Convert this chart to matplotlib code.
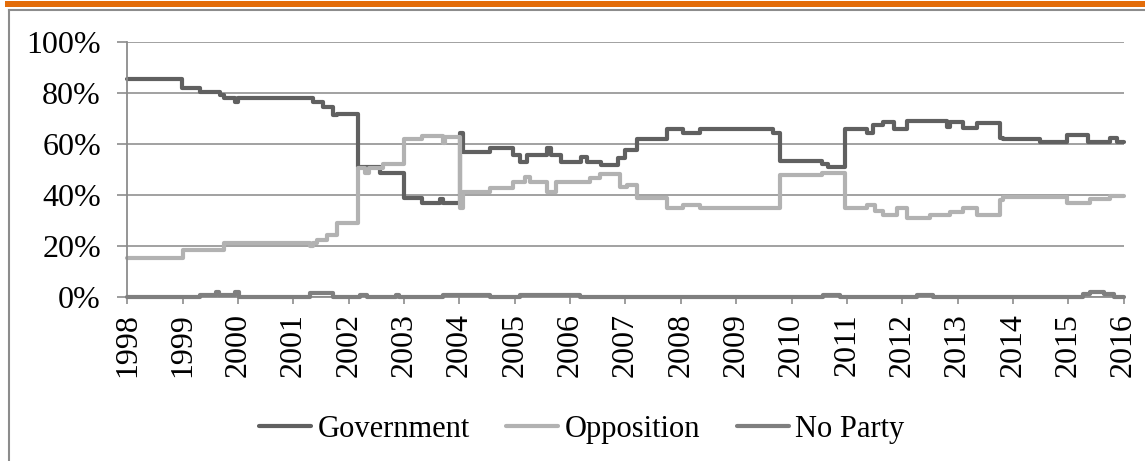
import matplotlib
matplotlib.use("Agg")
import matplotlib.pyplot as plt
from matplotlib.lines import Line2D
from matplotlib.patches import Rectangle
from matplotlib.ticker import FuncFormatter

plt.rcParams['font.family'] = ['Liberation Serif', 'DejaVu Serif']

# Share of members by affiliation (%), step changes
gov_years = [1998.0, 1998.98, 1999.31, 1999.67, 1999.74, 1999.95, 2000.0, 2001.36, 2001.54,
             2001.72, 2001.78, 2002.17, 2002.57, 2002.99, 2003.32, 2003.65, 2003.7, 2004.01,
             2004.07, 2004.55, 2004.97, 2005.09, 2005.22, 2005.58, 2005.65, 2005.83, 2006.2,
             2006.3, 2006.55, 2006.87, 2006.99, 2007.21, 2007.75, 2008.04, 2008.34, 2009.66,
             2009.79, 2010.55, 2010.66, 2010.97, 2011.37, 2011.48, 2011.65, 2011.85, 2012.09,
             2012.81, 2012.86, 2013.1, 2013.35, 2013.77, 2013.82, 2014.49, 2014.98, 2015.36,
             2015.75, 2015.88, 2016.0]
gov_vals = [85.3, 81.7, 80.4, 79.1, 77.8, 76.5, 77.8, 76.5, 74.5,
            71.3, 71.6, 50.8, 48.6, 38.6, 36.6, 38.3, 36.6, 64.1,
            56.9, 58.2, 55.6, 53.0, 55.6, 58.2, 55.6, 53.0, 54.7,
            53.0, 51.6, 54.3, 57.5, 61.7, 65.6, 64.1, 65.6, 64.1,
            53.3, 52.0, 50.7, 65.6, 64.1, 67.3, 68.4, 65.6, 69.0,
            66.5, 68.6, 66.0, 68.0, 62.1, 61.7, 60.8, 63.4, 60.8,
            62.1, 60.8, 60.8]

opp_years = [1998.0, 1999.0, 1999.74, 2001.3, 2001.36, 2001.42, 2001.6, 2001.78, 2002.17,
             2002.3, 2002.36, 2002.62, 2002.99, 2003.32, 2003.7, 2003.74, 2004.01, 2004.07,
             2004.55, 2004.97, 2005.18, 2005.27, 2005.58, 2005.75, 2006.36, 2006.54, 2006.9,
             2007.03, 2007.21, 2007.75, 2008.04, 2008.34, 2009.79, 2010.55, 2010.97, 2011.36,
             2011.5, 2011.65, 2011.91, 2012.09, 2012.5, 2012.86, 2013.1, 2013.35, 2013.77,
             2013.82, 2014.98, 2015.39, 2015.75, 2016.0]
opp_vals = [15.1, 18.3, 20.9, 19.8, 21.0, 22.2, 24.2, 28.8, 50.4,
            48.6, 50.4, 52.0, 61.7, 63.1, 60.3, 62.5, 34.7, 41.2,
            42.5, 45.1, 46.8, 45.1, 41.2, 45.1, 46.4, 48.1, 43.1,
            43.8, 38.6, 34.7, 36.0, 34.7, 47.7, 48.4, 34.7, 36.0,
            33.5, 32.0, 34.7, 30.7, 32.0, 33.3, 34.7, 32.0, 37.9,
            39.0, 36.9, 38.2, 39.5, 39.5]

np_years = [1998.0, 1999.31, 1999.6, 1999.66, 1999.95, 2000.02, 2001.3, 2001.72, 2002.2,
            2002.33, 2002.85, 2002.9, 2003.7, 2004.55, 2005.09, 2006.18, 2010.57, 2010.88,
            2012.26, 2012.55, 2015.27, 2015.4, 2015.65, 2015.82, 2016.0]
np_vals = [0, 0.8, 2.0, 0.8, 2.0, 0, 1.5, 0, 0.8,
           0, 0.5, 0, 0.8, 0, 0.8, 0, 0.8, 0,
           0.8, 0, 1.0, 2.0, 1.0, 0, 0]

years = list(range(1998, 2017))

fig = plt.figure(figsize=(11.45, 4.61), dpi=100)
ax = fig.add_axes([0.1112, 0.3564, 0.8701, 0.5531])

line_kw = dict(where='post', lw=3, solid_joinstyle='round', solid_capstyle='round', clip_on=False)
ax.step(gov_years, gov_vals, color='#606060', label='Government', **line_kw)
ax.step(opp_years, opp_vals, color='#b2b2b2', label='Opposition', **line_kw)
ax.step(np_years, np_vals, color='#7f7f7f', label='No Party', zorder=3, **line_kw)

ax.set_xlim(1998, 2016)
ax.set_ylim(0, 100)
ax.set_xticks(years)
ax.set_xticklabels([str(y) for y in years], rotation=90)
ax.set_yticks(range(0, 101, 20))
ax.yaxis.set_major_formatter(FuncFormatter(lambda v, p: f"{int(v)}%"))
ax.tick_params(axis='x', direction='out', length=5, width=1.2, color='#8c8c8c', labelsize=23, pad=7)
ax.tick_params(axis='y', direction='out', length=7, width=1.2, color='#8c8c8c', labelsize=23, pad=12)
ax.grid(axis='y', color='#9a9a9a', lw=1.3)
ax.set_axisbelow(True)
for s in ['top', 'right']:
    ax.spines[s].set_visible(False)
for s in ['left', 'bottom']:
    ax.spines[s].set_color('#8c8c8c')
    ax.spines[s].set_linewidth(1.3)

ax.legend(loc='center', bbox_to_anchor=(0.508, 0.068), bbox_transform=fig.transFigure,
          ncol=3, frameon=False, fontsize=22, handlelength=1.7, handletextpad=0.2,
          columnspacing=1.2)

# page decoration: orange rule and chart border
fig.add_artist(Rectangle((5 / 1145, 1 - 7.5 / 461), 1, 6 / 461, transform=fig.transFigure,
                         color='#e36c09', lw=0))
fig.add_artist(Line2D([8.5 / 1145, 1], [1 - 10.5 / 461] * 2, transform=fig.transFigure,
                      color='#8c8c8c', lw=1.5))
fig.add_artist(Line2D([9 / 1145] * 2, [0, 1 - 10.5 / 461], transform=fig.transFigure,
                      color='#8c8c8c', lw=1.5))

fig.savefig('out.png', dpi=100)
